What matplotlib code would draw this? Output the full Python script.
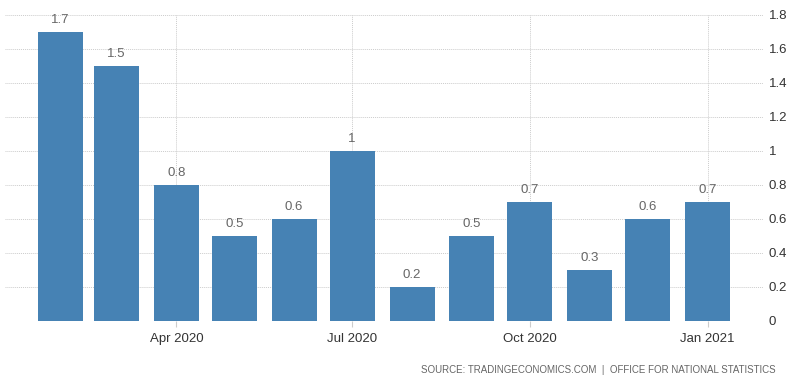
import matplotlib
matplotlib.use("Agg")
import matplotlib.pyplot as plt
import matplotlib.dates as mdates
import pandas as pd

months = ["2020-02-01", "2020-03-01", "2020-04-01", "2020-05-01", "2020-06-01", "2020-07-01",
          "2020-08-01", "2020-09-01", "2020-10-01", "2020-11-01", "2020-12-01", "2021-01-01"]
values = [1.7, 1.5, 0.8, 0.5, 0.6, 1.0, 0.2, 0.5, 0.7, 0.3, 0.6, 0.7]
value_labels = ["1.7", "1.5", "0.8", "0.5", "0.6", "1", "0.2", "0.5", "0.7", "0.3", "0.6", "0.7"]
tick_months = ["2020-04-01", "2020-07-01", "2020-10-01", "2021-01-01"]
tick_labels = ["Apr 2020", "Jul 2020", "Oct 2020", "Jan 2021"]
yticks = [0, 0.2, 0.4, 0.6, 0.8, 1.0, 1.2, 1.4, 1.6, 1.8]
ytick_labels = ["0", "0.2", "0.4", "0.6", "0.8", "1", "1.2", "1.4", "1.6", "1.8"]

plt.rcParams['font.family'] = ['Liberation Sans', 'DejaVu Sans']

fig = plt.figure(figsize=(8, 3.83), dpi=100)
ax = fig.add_axes([0.00625, 0.162, 0.9475, 0.799])

x = mdates.date2num(pd.to_datetime(months))
ax.bar(x, values, width=23.3, color="#4682b4", zorder=2)
for xi, v, lab in zip(x, values, value_labels):
    ax.annotate(lab, (xi, v), xytext=(0, 4.5), textcoords="offset points",
                ha="center", va="bottom", fontsize=9.5, color="#666666", zorder=3)

ax.set_xlim(x[0] - 28.7, x[-1] + 28.7)
ax.set_ylim(0, 1.8)

ax.set_xticks(mdates.date2num(pd.to_datetime(tick_months)))
ax.set_xticklabels(tick_labels, fontsize=9.5, color="#333333")
ax.set_yticks(yticks)
ax.set_yticklabels(ytick_labels, fontsize=9.5, color="#333333")
ax.yaxis.tick_right()
ax.tick_params(axis="y", length=0, pad=4)
ax.tick_params(axis="x", length=4, color="#cccccc", pad=5)

ax.grid(True, axis="both", color="#cccccc", linestyle=(0, (1, 1)), linewidth=0.7, zorder=0)
for s in ax.spines.values():
    s.set_visible(False)

fig.text(0.969, 0.035, "SOURCE: TRADINGECONOMICS.COM  |  OFFICE FOR NATIONAL STATISTICS",
         ha="right", va="center", fontsize=7, color="#666666")

fig.savefig("out.png", dpi=100)
